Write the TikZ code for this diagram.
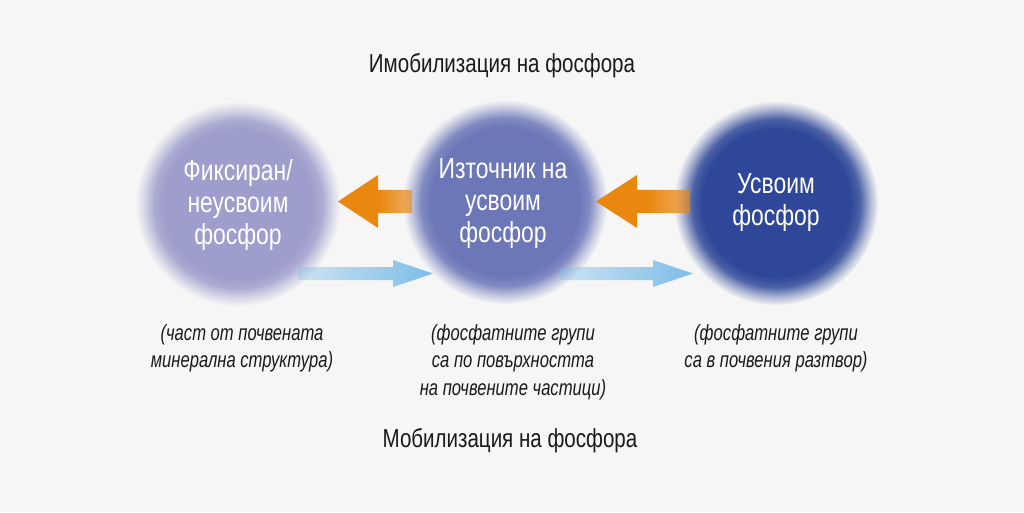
\documentclass[tikz,border=0pt]{standalone}
\usepackage{fontspec}
\setmainfont{Liberation Sans}
\newfontfamily\cond[FakeStretch=0.79]{Liberation Sans}
\newfontfamily\condi[FakeStretch=0.755]{Liberation Sans Italic}
\usetikzlibrary{fadings}
\definecolor{bgc}{HTML}{F6F6F6}
\definecolor{cone}{HTML}{9E9ECC}
\definecolor{ctwo}{HTML}{6C77B8}
\definecolor{cthree}{HTML}{2E4798}
\definecolor{orng}{HTML}{E9870F}
\definecolor{blu}{HTML}{78BBE8}
\definecolor{ink}{HTML}{1A1A1A}
\pgfdeclareradialshading{circfadeshade}{\pgfpointorigin}{color(0bp)=(white); color(18bp)=(white); color(20.5bp)=(black!15); color(23bp)=(black!65); color(25bp)=(black); color(50bp)=(black)}
\pgfdeclarefading{circfade}{\pgfuseshading{circfadeshade}}
\pgfdeclarehorizontalshading{orfadeshade}{100bp}{color(0bp)=(white); color(52bp)=(white); color(100bp)=(black!80)}
\pgfdeclarefading{orfade}{\pgfuseshading{orfadeshade}}
\pgfdeclarehorizontalshading{blfadeshade}{100bp}{color(0bp)=(black); color(70bp)=(black!10); color(100bp)=(white)}
\pgfdeclarefading{blfade}{\pgfuseshading{blfadeshade}}
\tikzset{
  circtext/.style={text=white, font=\cond\fontsize{29}{32}\selectfont, align=center, inner sep=0pt},
  captext/.style={text=ink, font=\condi\fontsize{22}{27.5}\selectfont, align=center, inner sep=0pt},
  titletext/.style={text=ink, font=\cond\fontsize{26}{30}\selectfont, inner sep=0pt},
  blob/.style={path fading=circfade, fit fading=true},
}
\begin{document}
\begin{tikzpicture}[x=1pt,y=-1pt]
\fill[bgc] (0,0) rectangle (1024,512);
\useasboundingbox (0,0) rectangle (1024,512);

% circles
\fill[cone, blob] (238,204) circle (102);
\fill[ctwo, blob] (505,202) circle (102);
\fill[cthree, blob] (776,203) circle (102);

% orange arrows (pointing left)
\fill[orng, path fading=orfade, fit fading=true]
  (338,201.5) -- (378,175) -- (378,190) -- (412,190) -- (412,213) -- (378,213) -- (378,228) -- cycle;
\fill[orng, path fading=orfade, fit fading=true]
  (596,201.5) -- (637,175) -- (637,190) -- (690,190) -- (690,213) -- (637,213) -- (637,228) -- cycle;

% blue arrows (pointing right)
\fill[blu, path fading=blfade, fit fading=true]
  (298,267) -- (393,267) -- (393,260) -- (433,273.5) -- (393,287) -- (393,280) -- (298,280) -- cycle;
\fill[blu, path fading=blfade, fit fading=true]
  (560,267) -- (653,267) -- (653,260) -- (693,273.5) -- (653,287) -- (653,280) -- (560,280) -- cycle;

% circle texts
\node[circtext] (fix) at (238,205) {Фиксиран/\\неусвоим\\фосфор};
\node[circtext] (src) at (503,204) {Източник на\\усвоим\\фосфор};
\node[circtext] (av) at (776,203) {Усвоим\\фосфор};

% titles
\node[titletext] (imm) at (502,66) {Имобилизация на фосфора};
\node[titletext] (mob) at (510,441) {Мобилизация на фосфора};

% captions
\node[captext, anchor=north] (capa) at (242,324) {(част от почвената\\минерална структура)};
\node[captext, anchor=north] (capb) at (513,324) {(фосфатните групи\\са по повърхността\\на почвените частици)};
\node[captext, anchor=north] (capc) at (776,324) {(фосфатните групи\\са в почвения разтвор)};
\end{tikzpicture}
\end{document}
